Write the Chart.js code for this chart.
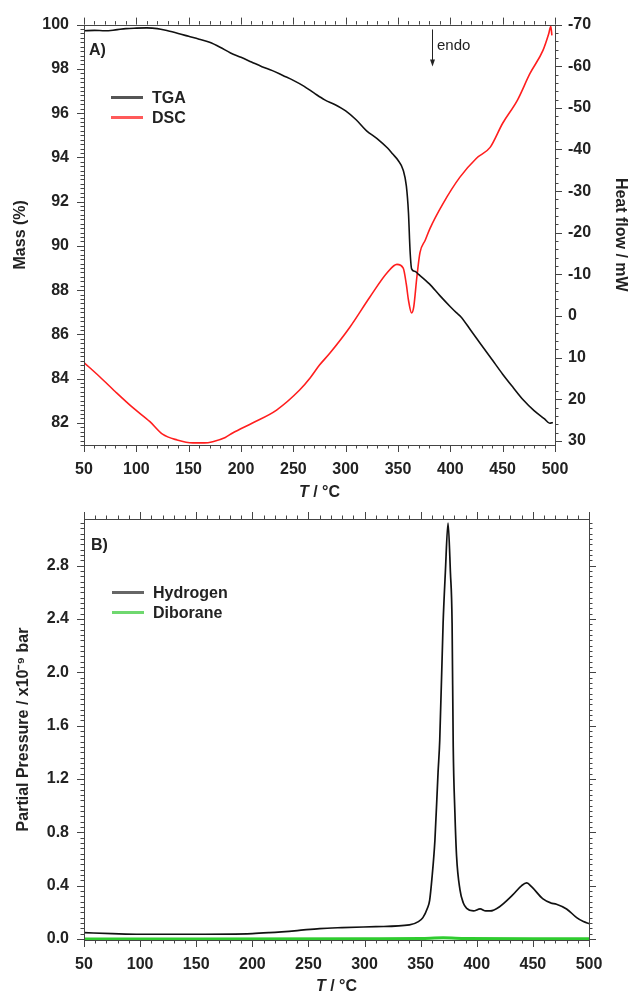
<!DOCTYPE html>
<html>
<head>
<meta charset="utf-8">
<title>TGA / DSC and partial pressure</title>
<script src="https://cdn.jsdelivr.net/npm/chart.js"></script>
<style>
  body { margin: 0; background: #fff; font-family: "Liberation Sans", Arial, sans-serif; }
  #wrap { position: relative; width: 631px; height: 994px; }
  canvas { position: absolute; left: 0; }
  .lbl { position: absolute; font-weight: bold; font-size: 16px; color: #222; line-height: 18px; white-space: nowrap; }
  .swatch { position: absolute; height: 3px; width: 32px; }
</style>
</head>
<body>
<div id="wrap">
  <canvas id="top" width="631" height="505" style="top:0"></canvas>
  <canvas id="bottom" width="631" height="504" style="top:490px"></canvas>

  <div class="lbl" style="left:89px; top:41px">A)</div>
  <div class="lbl" style="left:437px; top:36px; font-weight:normal; font-size:15px">endo</div>
  <div class="swatch" style="left:111px; top:96px; background:#555"></div>
  <div class="lbl" style="left:152px; top:89px">TGA</div>
  <div class="swatch" style="left:111px; top:116px; background:#ff5a5a"></div>
  <div class="lbl" style="left:152px; top:109px">DSC</div>

  <div class="lbl" style="left:91px; top:536px">B)</div>
  <div class="swatch" style="left:112px; top:591px; background:#666"></div>
  <div class="lbl" style="left:153px; top:584px">Hydrogen</div>
  <div class="swatch" style="left:112px; top:611px; background:#6fd86f"></div>
  <div class="lbl" style="left:153px; top:604px">Diborane</div>
</div>
<script>
// ---- data ----
const tgaTemp = [50,60,70,80,90,100,110,120,130,140,150,160,170,180,190,200,210,220,230,240,250,260,270,280,290,300,310,320,330,340,345,350,355,358,360,361.5,363,366,370,380,390,400,406,410,420,430,440,450,460,470,480,490,495,498];
const tgaMass = [99.72,99.74,99.72,99.76,99.82,99.84,99.85,99.82,99.72,99.6,99.47,99.34,99.2,98.98,98.72,98.52,98.31,98.1,97.92,97.7,97.48,97.22,96.9,96.6,96.38,96.1,95.7,95.2,94.85,94.42,94.15,93.87,93.42,92.7,91.5,89.8,88.96,88.85,88.7,88.28,87.75,87.25,86.97,86.8,86.15,85.5,84.85,84.2,83.6,83.02,82.55,82.18,81.98,82.02];

const dscTemp = [50,65,80,97,113,125,139,154,165,173,185,192,211,234,256,266,275,285,304,323,340,349,355,358,360,363,365,368,371,376,380.5,393,409,425,438,450,464,476,488.5,494,496,497];
const dscHeat = [11.2,14.6,18.2,22.1,25.4,28.4,29.8,30.5,30.5,30.2,29.2,28.1,25.7,22.6,17.8,14.9,11.8,8.9,2.7,-4.5,-10.5,-12.4,-11.5,-7.5,-3.8,-0.7,-2.1,-9.3,-15.2,-18.2,-21.0,-27,-33.3,-37.9,-40.5,-46.3,-51.8,-58.2,-63.8,-67.8,-69.6,-67.4];

const h2Temp = [50,75,100,150,200,215,240,260,280,310,340,348,352,356,358,360,362.7,365.5,367,370,372,374.4,376.5,378,379,380.5,382,385,388,391,397,403,408,412,420,432,440,444.5,449,459,466,471,480,489,495,500];
const h2Pressure = [0.047,0.04,0.035,0.035,0.04,0.047,0.063,0.078,0.085,0.092,0.105,0.13,0.16,0.23,0.29,0.45,0.74,1.25,1.49,2.37,2.75,3.12,2.75,2.37,1.45,0.95,0.62,0.37,0.27,0.23,0.21,0.225,0.21,0.21,0.24,0.33,0.4,0.42,0.39,0.3,0.27,0.26,0.225,0.16,0.13,0.115];

const b2h6Temp = [50,150,300,350,370,390,450,500];
const b2h6Pressure = [0.0,0.0,0.002,0.004,0.008,0.004,0.002,0.002];

const tempTicks = [50,100,150,200,250,300,350,400,450,500];
const massTicks = [82,84,86,88,90,92,94,96,98,100];
const heatTicks = [-70,-60,-50,-40,-30,-20,-10,0,10,20,30];
const pressureTicks = [0.0,0.4,0.8,1.2,1.6,2.0,2.4,2.8];

const pts = (xs, ys) => xs.map((x, i) => ({x: x, y: ys[i]}));
const fixTicks = list => s => { s.ticks = list.map(v => ({value: v})); };
const tickFont = {family: '"Liberation Sans", Arial, sans-serif', size: 16, weight: 'bold'};
const ink = '#222';

// frame, minor/major tick marks outside the plot, x title with italic T
const frameTicks = {
  id: 'frameTicks',
  afterDraw(chart, args, o) {
    const ctx = chart.ctx, a = chart.chartArea;
    ctx.save();
    ctx.strokeStyle = '#444';
    ctx.lineWidth = 1;
    ctx.strokeRect(Math.round(a.left) + 0.5, Math.round(a.top) + 0.5, Math.round(a.right - a.left), Math.round(a.bottom - a.top));
    ctx.beginPath();
    o.marks.forEach(m => {
      const s = chart.scales[m.id];
      const lo = Math.min(s.min, s.max), hi = Math.max(s.min, s.max);
      const start = Math.ceil(lo / m.minor - 1e-6);
      for (let k = start; k * m.minor <= hi + 1e-9; k++) {
        const v = k * m.minor;
        const isMajor = Math.abs(v / m.major - Math.round(v / m.major)) < 1e-6;
        const len = isMajor ? 7 : 3.5;
        const p = Math.round(s.getPixelForValue(v)) + 0.5;
        if (m.side === 'bottom') { ctx.moveTo(p, a.bottom); ctx.lineTo(p, a.bottom + len); }
        if (m.side === 'top') { ctx.moveTo(p, a.top); ctx.lineTo(p, a.top - len); }
        if (m.side === 'left') { ctx.moveTo(a.left, p); ctx.lineTo(a.left - len, p); }
        if (m.side === 'right') { ctx.moveTo(a.right, p); ctx.lineTo(a.right + len, p); }
      }
    });
    ctx.stroke();

    // x axis title: italic T then " / °C"
    const cx = (a.left + a.right) / 2, by = a.bottom + o.titleGap;
    ctx.fillStyle = ink;
    ctx.textBaseline = 'alphabetic';
    ctx.font = 'italic bold 16px "Liberation Sans", Arial, sans-serif';
    const w1 = ctx.measureText('T').width;
    ctx.font = 'bold 16px "Liberation Sans", Arial, sans-serif';
    const w2 = ctx.measureText(' / °C').width;
    const x0 = cx - (w1 + w2) / 2;
    ctx.font = 'italic bold 16px "Liberation Sans", Arial, sans-serif';
    ctx.fillText('T', x0, by);
    ctx.font = 'bold 16px "Liberation Sans", Arial, sans-serif';
    ctx.fillText(' / °C', x0 + w1, by);

    // "endo" arrow
    if (o.arrow) {
      const x = Math.round(chart.scales.x.getPixelForValue(o.arrow.x)) + 0.5;
      const y1 = chart.scales.y.getPixelForValue(o.arrow.from);
      const y2 = chart.scales.y.getPixelForValue(o.arrow.to);
      ctx.beginPath();
      ctx.moveTo(x, y1); ctx.lineTo(x, y2 - 5);
      ctx.strokeStyle = '#222';
      ctx.stroke();
      ctx.beginPath();
      ctx.moveTo(x - 2.5, y2 - 6); ctx.lineTo(x + 2.5, y2 - 6); ctx.lineTo(x, y2 + 1); ctx.closePath();
      ctx.fill();
    }
    ctx.restore();
  }
};

const common = {
  responsive: false,
  animation: false,
  events: [],
  elements: { point: { radius: 0 } },
  plugins: { legend: { display: false }, tooltip: { enabled: false } }
};

new Chart(document.getElementById('top'), {
  type: 'line',
  data: {
    datasets: [
      { data: pts(tgaTemp, tgaMass), yAxisID: 'y', borderColor: '#111', borderWidth: 1.6, cubicInterpolationMode: 'monotone' },
      { data: pts(dscTemp, dscHeat), yAxisID: 'y2', borderColor: '#ff1e1e', borderWidth: 1.6, cubicInterpolationMode: 'monotone' }
    ]
  },
  options: Object.assign({}, common, {
    layout: { padding: { top: 24, left: 0, right: 0, bottom: 0 } },
    scales: {
      x: {
        type: 'linear', position: 'bottom', min: 50, max: 500,
        grid: { display: false, drawTicks: false }, border: { display: false },
        ticks: { font: tickFont, color: ink, padding: 15, autoSkip: false, maxRotation: 0 },
        afterBuildTicks: fixTicks(tempTicks),
        afterFit: s => { s.height = 60; }
      },
      y: {
        type: 'linear', position: 'left', min: 81, max: 100,
        grid: { display: false, drawTicks: false }, border: { display: false },
        ticks: { font: tickFont, color: ink, padding: 15, autoSkip: false },
        afterBuildTicks: fixTicks(massTicks),
        title: { display: true, text: 'Mass (%)', font: tickFont, color: ink, padding: { top: 11, bottom: 0 } },
        afterFit: s => { s.width = 84; }
      },
      y2: {
        type: 'linear', position: 'right', min: -70, max: 31, reverse: true,
        grid: { display: false, drawTicks: false }, border: { display: false },
        ticks: { font: tickFont, color: ink, padding: 13, autoSkip: false },
        afterBuildTicks: fixTicks(heatTicks),
        title: { display: true, text: 'Heat flow / mW', font: tickFont, color: ink, padding: { top: 1, bottom: 0 } },
        afterFit: s => { s.width = 76; }
      }
    },
    plugins: Object.assign({}, common.plugins, {
      frameTicks: {
        titleGap: 52,
        arrow: { x: 382.5, from: 99.78, to: 98.15 },
        marks: [
          { id: 'x', side: 'bottom', minor: 10, major: 50 },
          { id: 'x', side: 'top', minor: 10, major: 50 },
          { id: 'y', side: 'left', minor: 0.2, major: 2 },
          { id: 'y2', side: 'right', minor: 2, major: 10 }
        ]
      }
    })
  }),
  plugins: [frameTicks]
});

new Chart(document.getElementById('bottom'), {
  type: 'line',
  data: {
    datasets: [
      { data: pts(b2h6Temp, b2h6Pressure), yAxisID: 'y', borderColor: '#2fcc2f', borderWidth: 3, clip: 4, cubicInterpolationMode: 'monotone' },
      { data: pts(h2Temp, h2Pressure), yAxisID: 'y', borderColor: '#111', borderWidth: 1.7, cubicInterpolationMode: 'monotone' }
    ]
  },
  options: Object.assign({}, common, {
    layout: { padding: { top: 29, left: 0, right: 0, bottom: 0 } },
    scales: {
      x: {
        type: 'linear', position: 'bottom', min: 50, max: 500,
        grid: { display: false, drawTicks: false }, border: { display: false },
        ticks: { font: tickFont, color: ink, padding: 15, autoSkip: false, maxRotation: 0 },
        afterBuildTicks: fixTicks(tempTicks),
        afterFit: s => { s.height = 54; }
      },
      y: {
        type: 'linear', position: 'left', min: -0.008, max: 3.15,
        grid: { display: false, drawTicks: false }, border: { display: false },
        ticks: { font: tickFont, color: ink, padding: 15, autoSkip: false, callback: v => v.toFixed(1) },
        afterBuildTicks: fixTicks(pressureTicks),
        title: { display: true, text: 'Partial Pressure / x10⁻⁹ bar', font: tickFont, color: ink, padding: { top: 14, bottom: 0 } },
        afterFit: s => { s.width = 84; }
      },
      y2: {
        type: 'linear', position: 'right', min: -0.008, max: 3.15,
        grid: { display: false, drawTicks: false }, border: { display: false },
        ticks: { display: false },
        afterFit: s => { s.width = 42; }
      }
    },
    plugins: Object.assign({}, common.plugins, {
      frameTicks: {
        titleGap: 51,
        marks: [
          { id: 'x', side: 'bottom', minor: 10, major: 50 },
          { id: 'x', side: 'top', minor: 10, major: 50 },
          { id: 'y', side: 'left', minor: 0.04, major: 0.4 },
          { id: 'y2', side: 'right', minor: 0.04, major: 0.4 }
        ]
      }
    })
  }),
  plugins: [frameTicks]
});
</script>
</body>
</html>
